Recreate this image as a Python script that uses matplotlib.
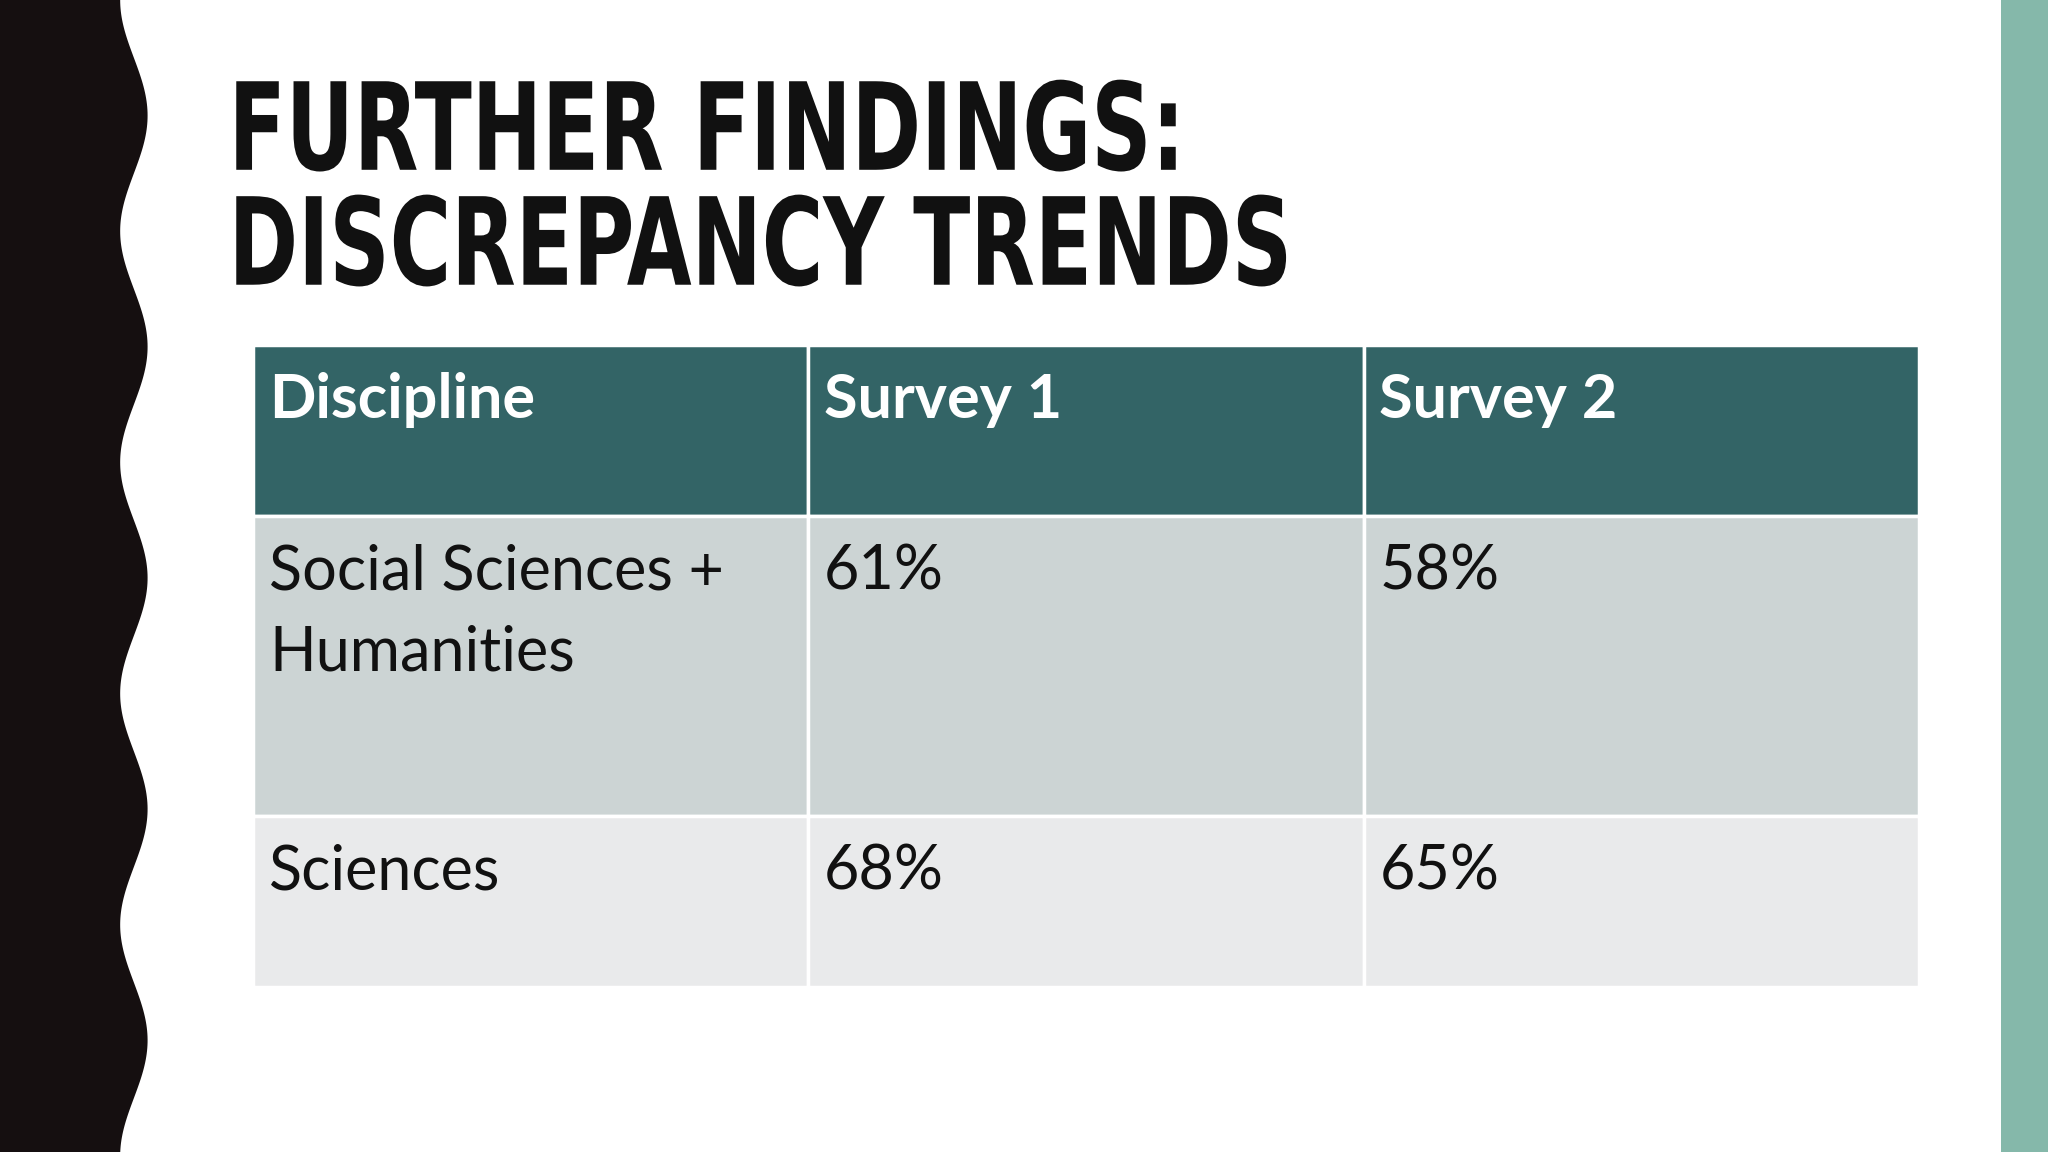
import numpy as np
import matplotlib.pyplot as plt
from matplotlib.patches import Rectangle, Polygon, PathPatch
from matplotlib.textpath import TextPath
from matplotlib.font_manager import FontProperties
from matplotlib.transforms import Affine2D

# slide contents
title_lines = ["FURTHER FINDINGS:", "DISCREPANCY TRENDS"]
columns = ["Discipline", "Survey 1", "Survey 2"]
disciplines = ["Social Sciences +\nHumanities", "Sciences"]
survey1 = ["61%", "68%"]
survey2 = ["58%", "65%"]

W, H = 1568, 882
fig = plt.figure(figsize=(20.48, 11.52), dpi=100)
ax = fig.add_axes([0, 0, 1, 1])
ax.set_xlim(0, W)
ax.set_ylim(H, 0)
ax.axis("off")
fig.patch.set_facecolor("white")

# wavy black band on the left
ys = np.linspace(0, H, 400)
xs = 102.5 - 10.5 * np.cos(2 * np.pi * ys / 177)
pts = [(0, 0)] + list(zip(xs, ys)) + [(0, H)]
ax.add_patch(Polygon(pts, closed=True, color="#150f10", lw=0))

# teal strip on the right
ax.add_patch(Rectangle((1532, 0), W - 1532, H, color="#85b8aa", lw=0))

# title, squeezed horizontally to mimic a condensed display face
fp = FontProperties(family="DejaVu Sans", weight="bold")
for i, line in enumerate(title_lines):
    tp = TextPath((0, 0), line, size=93, prop=fp)
    tr = Affine2D().scale(0.69, -1).translate(175, 130 + i * 88)
    ax.add_patch(PathPatch(tr.transform_path(tp), color="#111111", lw=0))

# table
col_x = [194, 619, 1044, 1469]
row_y = [264, 395, 625, 756]
fills = ["#336466", "#ccd4d4", "#e9eaeb"]
cells = [columns] + [[d, a, b] for d, a, b in zip(disciplines, survey1, survey2)]
for r in range(3):
    for c in range(3):
        ax.add_patch(Rectangle((col_x[c], row_y[r]), col_x[c + 1] - col_x[c],
                               row_y[r + 1] - row_y[r], facecolor=fills[r],
                               edgecolor="white", lw=2.5))
        hdr = r == 0
        ax.text(col_x[c] + 12, row_y[r] + 56, cells[r][c].split("\n")[0],
                family="Lato", fontsize=44,
                fontweight="bold" if hdr else "normal",
                color="white" if hdr else "#111111", va="baseline", ha="left")
        if "\n" in cells[r][c]:
            ax.text(col_x[c] + 12, row_y[r] + 118, cells[r][c].split("\n")[1],
                    family="Lato", fontsize=44, color="#111111",
                    va="baseline", ha="left")

fig.savefig("out.png", dpi=100)
